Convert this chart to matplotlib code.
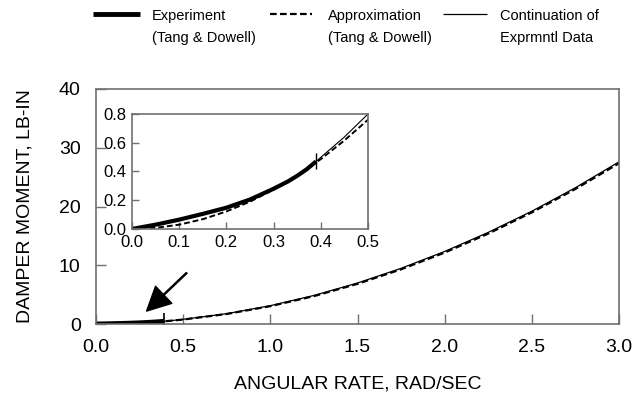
import numpy as np
import matplotlib
matplotlib.use('Agg')
import matplotlib.pyplot as plt
from matplotlib.lines import Line2D

plt.rcParams['font.family'] = ['Liberation Sans', 'DejaVu Sans']

# measured damper moment, Tang & Dowell (rad/sec, lb-in)
exp_rate = [0.0, 0.05, 0.10, 0.15, 0.20, 0.25, 0.30, 0.33, 0.35, 0.37, 0.39]
exp_moment = [0.0, 0.03, 0.065, 0.105, 0.148, 0.205, 0.28, 0.33, 0.37, 0.415, 0.47]

# approximation curve
apx_rate = [0.0, 0.05, 0.10, 0.15, 0.20, 0.25, 0.30, 0.35, 0.40, 0.45, 0.50,
            0.75, 1.00, 1.25, 1.50, 1.75, 2.00, 2.25, 2.50, 2.75, 3.00]
apx_moment = [0.0, 0.008, 0.03, 0.068, 0.122, 0.19, 0.274, 0.372, 0.486, 0.616, 0.76,
              1.71, 3.04, 4.75, 6.84, 9.31, 12.16, 15.39, 19.0, 22.99, 27.36]

# extension of the measured data past 0.39 rad/sec
ext_rate = [0.39, 0.42, 0.45, 0.50, 0.75, 1.00, 1.25, 1.50, 1.75, 2.00,
            2.25, 2.50, 2.75, 3.00]
ext_moment = [0.47, 0.555, 0.64, 0.80, 1.76, 3.12, 4.86, 6.98, 9.48, 12.35,
              15.6, 19.2, 23.2, 27.6]

end_rate = exp_rate[-1]
end_moment = exp_moment[-1]

spine_col = '#707070'

fig = plt.figure(figsize=(6.41, 3.95), dpi=100)

# ---- main plot
ax = fig.add_axes([0.1498, 0.1797, 0.8159, 0.595])
ax.plot(ext_rate, ext_moment, color='black', lw=0.9)
ax.plot(apx_rate, apx_moment, color='black', lw=1.6, ls=(0, (3, 1.5)))
ax.plot(exp_rate, exp_moment, color='black', lw=3.5, solid_capstyle='butt')
ax.plot([end_rate], [end_moment], marker='|', ms=11, mew=1.2, color='black')
ax.annotate('', xy=(0.29, 2.2), xytext=(0.52, 8.7),
            arrowprops=dict(facecolor='black', edgecolor='black', width=0.8,
                            headwidth=17, headlength=17, shrink=0))
ax.set_xlim(0, 3)
ax.set_ylim(0, 40)
ax.set_xticks(np.arange(0, 3.01, 0.5))
ax.set_yticks(np.arange(0, 41, 10))
ax.xaxis.set_major_formatter(matplotlib.ticker.FormatStrFormatter('%.1f'))
ax.tick_params(direction='in', length=7, width=1, color=spine_col,
               labelsize=14, pad=11)
for s in ax.spines.values():
    s.set_color(spine_col)
    s.set_linewidth(1.2)
ax.set_xlabel('ANGULAR RATE, RAD/SEC', fontsize=14, labelpad=14)
ax.set_ylabel('DAMPER MOMENT, LB-IN', fontsize=14, labelpad=18)

# ---- inset, low-rate detail
ins = fig.add_axes([0.2059, 0.4203, 0.3682, 0.2911])
ins.plot(ext_rate, ext_moment, color='black', lw=0.8)
ins.plot(apx_rate, apx_moment, color='black', lw=1.4, ls=(0, (3, 1.5)))
ins.plot(exp_rate, exp_moment, color='black', lw=3, solid_capstyle='butt')
ins.plot([end_rate], [end_moment], marker='|', ms=12, mew=1, color='black')
ins.set_xlim(0, 0.5)
ins.set_ylim(0, 0.8)
ins.set_xticks(np.arange(0, 0.51, 0.1))
ins.set_yticks(np.arange(0, 0.81, 0.2))
ins.xaxis.set_major_formatter(matplotlib.ticker.FormatStrFormatter('%.1f'))
ins.yaxis.set_major_formatter(matplotlib.ticker.FormatStrFormatter('%.1f'))
ins.tick_params(direction='in', length=5, width=1, color=spine_col,
                labelsize=12, pad=4)
for s in ins.spines.values():
    s.set_color(spine_col)
    s.set_linewidth(1.2)

# ---- key across the top
W, H = 641.0, 395.0
key = [
    ((93, 140), '-', 3.5, 'Experiment\n(Tang & Dowell)', 152),
    ((270, 312), (0, (3, 1.5)), 1.6, 'Approximation\n(Tang & Dowell)', 328),
    ((443, 487), '-', 0.9, 'Continuation of\nExprmntl Data', 500),
]
for (x0, x1), ls, lw, text, tx in key:
    fig.add_artist(Line2D([x0 / W, x1 / W], [1 - 14 / H, 1 - 14 / H],
                          color='black', lw=lw, ls=ls, solid_capstyle='butt',
                          transform=fig.transFigure))
    fig.text(tx / W, 1 - 9 / H, text, fontsize=10.5, va='top', ha='left',
             linespacing=1.75)

fig.savefig('out.png', dpi=100)
